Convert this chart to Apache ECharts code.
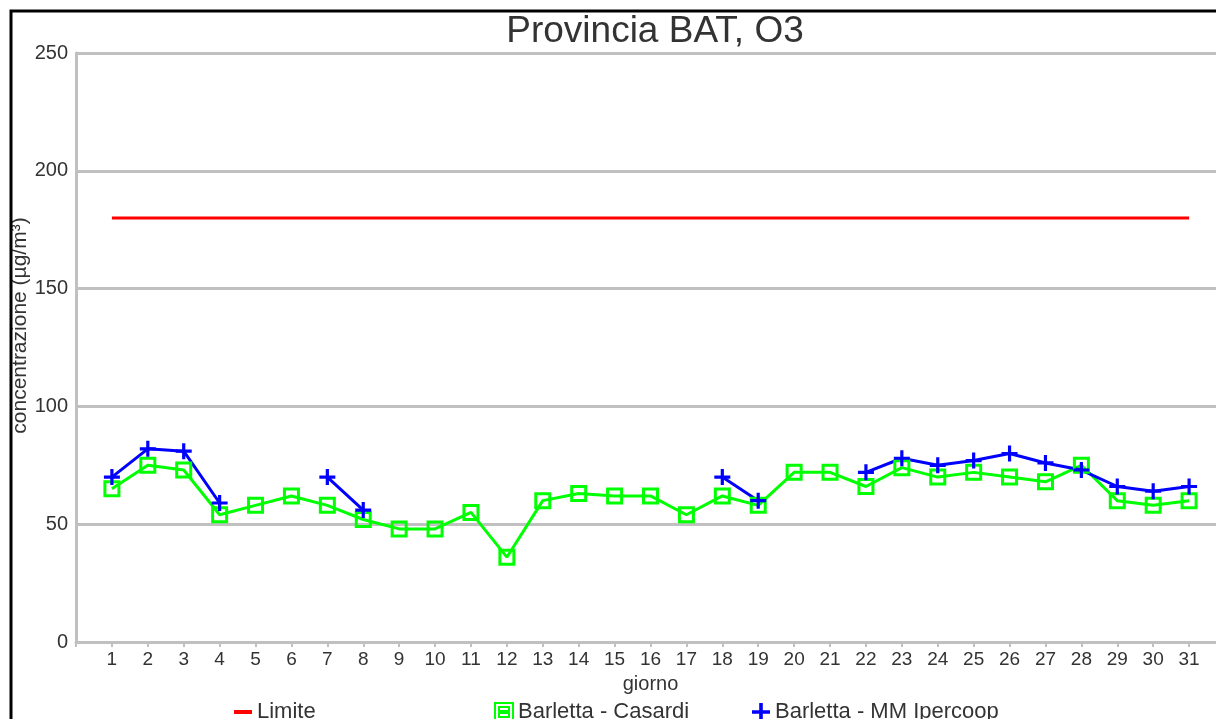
<!DOCTYPE html>
<html>
<head>
<meta charset="utf-8">
<script src="https://cdn.jsdelivr.net/npm/echarts@6/dist/echarts.min.js"></script>
<style>
  html, body { margin: 0; padding: 0; background: #fff; }
  #chart { width: 1216px; height: 719px; }
</style>
</head>
<body>
<div id="chart"></div>
<script>
// giorni del mese
var giorni = [1, 2, 3, 4, 5, 6, 7, 8, 9, 10, 11, 12, 13, 14, 15, 16, 17, 18, 19, 20, 21, 22, 23, 24, 25, 26, 27, 28, 29, 30, 31];
var limite = [180, 180, 180, 180, 180, 180, 180, 180, 180, 180, 180, 180, 180, 180, 180, 180, 180, 180, 180, 180, 180, 180, 180, 180, 180, 180, 180, 180, 180, 180, 180];
var casardi = [65, 75, 73, 54, 58, 62, 58, 52, 48, 48, 55, 36, 60, 63, 62, 62, 54, 62, 58, 72, 72, 66, 74, 70, 72, 70, 68, 75, 60, 58, 60];
var ipercoop = [70, 82, 81, 59, null, null, 70, 56, null, null, null, null, null, null, null, null, null, 70, 60, null, null, 72, 78, 75, 77, 80, 76, 73, 66, 64, 66];
var yTicks = [0, 50, 100, 150, 200, 250];

function coppie(valori) {
    return giorni.map(function (g, i) { return [g, valori[i]]; });
}

var plusPath = 'path://M4,0h2v10h-2zM0,4h10v2h-10z';
var testo = '#333';
var font = 'Liberation Sans';

var chart = echarts.init(document.getElementById('chart'));
var option = {
    animation: false,
    backgroundColor: '#fff',
    title: {
        text: 'Provincia BAT, O3',
        left: 650,
        top: 8,
        textAlign: 'center',
        textStyle: {fontFamily: font, fontSize: 37, fontWeight: 'normal', color: testo}
    },
    legend: [{
        left: 229, top: 696, itemWidth: 18, itemHeight: 18, itemGap: 4,
        textStyle: {fontFamily: font, fontSize: 22, color: testo},
        data: [{name: 'Limite', icon: 'path://M0,7h18v4h-18z'}]
    }, {
        left: 489, top: 696, itemWidth: 18, itemHeight: 18,
        textStyle: {fontFamily: font, fontSize: 22, color: testo},
        data: [{name: 'Barletta - Casardi', icon: 'path://M0,0h18v18h-18zM4,4v4h10v-4zM4,10v4h10v-4z'}]
    }, {
        left: 747, top: 696, itemWidth: 18, itemHeight: 18,
        textStyle: {fontFamily: font, fontSize: 22, color: testo},
        data: [{name: 'Barletta - MM Ipercoop', icon: plusPath}]
    }],
    grid: {left: 76, right: -9, top: 53, bottom: 77, outerBoundsMode: 'none'},
    xAxis: {
        type: 'value',
        min: 0,
        max: 32,
        interval: 1,
        name: 'giorno',
        nameLocation: 'middle',
        nameGap: 32,
        nameMoveOverlap: false,
        nameTextStyle: {fontFamily: font, fontSize: 20, color: testo},
        axisLine: {lineStyle: {color: '#c0c0c0', width: 3}},
        axisTick: {show: true, length: 5, lineStyle: {color: '#c0c0c0', width: 2}},
        axisLabel: {
            margin: 8,
            fontFamily: font, fontSize: 19, color: testo,
            formatter: function (v) { return giorni.indexOf(v) >= 0 ? String(v) : ''; }
        },
        splitLine: {show: false}
    },
    yAxis: {
        type: 'value',
        min: yTicks[0],
        max: yTicks[yTicks.length - 1],
        interval: 50,
        name: 'concentrazione (µg/m³)',
        nameLocation: 'middle',
        nameGap: 45,
        nameMoveOverlap: false,
        nameTextStyle: {fontFamily: font, fontSize: 21, color: testo, padding: [0, 0, 0, 44]},
        axisLine: {show: true, lineStyle: {color: '#c0c0c0', width: 3}},
        axisTick: {show: false},
        axisLabel: {margin: 8, fontFamily: font, fontSize: 20, color: testo},
        splitLine: {lineStyle: {color: '#c0c0c0', width: 3}}
    },
    series: [{
        name: 'Limite',
        type: 'line',
        data: coppie(limite),
        showSymbol: false,
        symbol: 'none',
        itemStyle: {color: '#ff0000'},
        lineStyle: {color: '#ff0000', width: 3}
    }, {
        name: 'Barletta - Casardi',
        type: 'line',
        data: coppie(casardi),
        symbol: 'rect',
        symbolSize: 14,
        itemStyle: {color: 'rgba(0,0,0,0)', borderColor: '#00ff00', borderWidth: 3},
        lineStyle: {color: '#00ff00', width: 3}
    }, {
        name: 'Barletta - MM Ipercoop',
        type: 'line',
        data: coppie(ipercoop),
        symbol: plusPath,
        symbolSize: 16,
        itemStyle: {color: '#0000ff'},
        lineStyle: {color: '#0000ff', width: 3}
    }],
    graphic: [{
        type: 'rect',
        shape: {x: 11, y: 11, width: 1300, height: 800},
        style: {fill: 'none', stroke: '#000', lineWidth: 3},
        z: 100
    }]
};
chart.setOption(option);
</script>
</body>
</html>
